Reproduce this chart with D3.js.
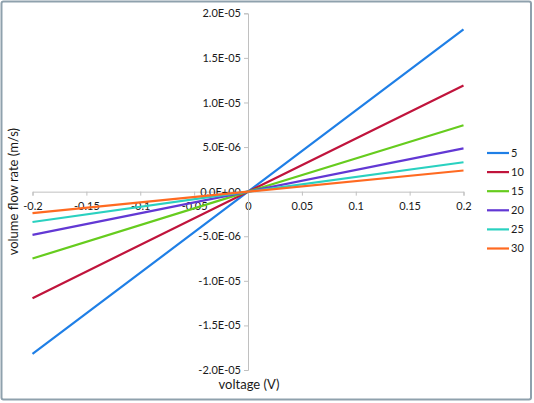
<!DOCTYPE html>
<html>
<head>
<meta charset="utf-8">
<script src="https://cdn.jsdelivr.net/npm/d3@7"></script>
<style>
  html, body { margin: 0; padding: 0; background: #fff; }
  svg { display: block; }
  text { font-family: Lato, "Open Sans", sans-serif; fill: #1a1a1a; }
</style>
</head>
<body>
<svg id="chart" width="534" height="403"></svg>
<script>
// ---- data ----
const voltage = [-0.2, 0, 0.2];
const seriesNames = ["5", "10", "15", "20", "25", "30"];
const s5  = [-1.82e-5, 0, 1.82e-5];
const s10 = [-1.195e-5, 0, 1.19e-5];
const s15 = [-7.5e-6, 0, 7.45e-6];
const s20 = [-4.85e-6, 0, 4.85e-6];
const s25 = [-3.4e-6, 0, 3.3e-6];
const s30 = [-2.4e-6, 0, 2.37e-6];
const seriesValues = [s5, s10, s15, s20, s25, s30];
const seriesColors = ["#1f7fe6", "#c0143c", "#66cc1e", "#6238d4", "#2ad1c0", "#ff6a21"];
const xTicks = [-0.2, -0.15, -0.1, -0.05, 0, 0.05, 0.1, 0.15, 0.2];
const xTickLabels = ["-0.2", "-0.15", "-0.1", "-0.05", "0", "0.05", "0.1", "0.15", "0.2"];
const yTicks = [2e-5, 1.5e-5, 1e-5, 5e-6, 0, -5e-6, -1e-5, -1.5e-5, -2e-5];
const yTickLabels = ["2.0E-05", "1.5E-05", "1.0E-05", "5.0E-06", "0.0E+00", "-5.0E-06", "-1.0E-05", "-1.5E-05", "-2.0E-05"];
const xTitle = "voltage (V)";
const yTitle = "volume flow rate (m/s)";

// ---- drawing ----
const svg = d3.select("#chart");

svg.append("rect")
  .attr("x", 1.5).attr("y", 1.5).attr("width", 529.5).attr("height", 398)
  .attr("rx", 2)
  .attr("fill", "#fff").attr("stroke", "#8fa1ad").attr("stroke-width", 2);

const x = d3.scaleLinear().domain([-0.2, 0.2]).range([32.5, 463.5]);
const y = d3.scaleLinear().domain([-2e-5, 2e-5]).range([370, 13.3]);

const axisColor = "#c0c0c0";

// x axis at y=0
const xAxis = d3.axisBottom(x).tickValues(xTicks)
  .tickFormat((d, i) => xTickLabels[i]).tickSizeOuter(0).tickSize(4).tickPadding(7);
const gx = svg.append("g").attr("transform", `translate(0,${y(0)})`).call(xAxis);
gx.select(".domain").attr("stroke", axisColor);
gx.selectAll(".tick line").attr("stroke", axisColor);
gx.selectAll(".tick text").attr("font-size", 11).attr("fill", "#1a1a1a")
  .attr("font-family", "Lato, 'Open Sans', sans-serif");

// y axis at x=0
const yAxis = d3.axisLeft(y).tickValues(yTicks)
  .tickFormat((d, i) => yTickLabels[i]).tickSizeOuter(0).tickSize(4).tickPadding(3);
const gy = svg.append("g").attr("transform", `translate(${x(0)},0)`).call(yAxis);
gy.select(".domain").attr("stroke", axisColor);
gy.selectAll(".tick line").attr("stroke", axisColor);
gy.selectAll(".tick text").attr("font-size", 11).attr("fill", "#1a1a1a")
  .attr("font-family", "Lato, 'Open Sans', sans-serif");

// axis titles
svg.append("text").attr("x", 249).attr("y", 389).attr("text-anchor", "middle")
  .attr("font-size", 13).text(xTitle);
svg.append("text").attr("transform", `translate(18,${y(0)}) rotate(-90)`)
  .attr("text-anchor", "middle").attr("font-size", 13).text(yTitle);

// series
const line = d3.line().x((d, i) => x(voltage[i])).y(d => y(d));
seriesValues.forEach((vals, k) => {
  svg.append("path").datum(vals)
    .attr("d", line)
    .attr("fill", "none")
    .attr("stroke", seriesColors[k])
    .attr("stroke-width", 2.2);
});

// legend
const lg = svg.append("g");
seriesNames.forEach((name, k) => {
  const yy = 153 + k * 19.1;
  lg.append("line").attr("x1", 487).attr("x2", 509).attr("y1", yy).attr("y2", yy)
    .attr("stroke", seriesColors[k]).attr("stroke-width", 2.2);
  lg.append("text").attr("x", 511).attr("y", yy).attr("dy", "0.35em")
    .attr("font-size", 11).text(name);
});
</script>
</body>
</html>
